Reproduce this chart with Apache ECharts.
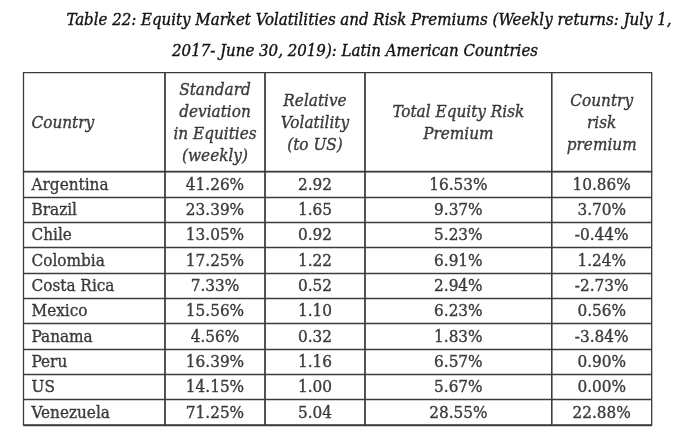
<!DOCTYPE html>
<html><head><meta charset="utf-8">
<script src="https://cdn.jsdelivr.net/npm/echarts@6/dist/echarts.min.js"></script>
<style>html,body{margin:0;padding:0;background:#fff}#c{width:680px;height:442px}</style>
</head><body><div id="c"></div>
<script>
const titleLines = ['Table 22: Equity Market Volatilities and Risk Premiums (Weekly returns: July 1,', '2017- June 30, 2019): Latin American Countries'];
const headers = ['Country', 'Standard\ndeviation\nin Equities\n(weekly)', 'Relative\nVolatility\n(to US)', 'Total Equity Risk\nPremium', 'Country\nrisk\npremium'];
const countries = ['Argentina','Brazil','Chile','Colombia','Costa Rica','Mexico','Panama','Peru','US','Venezuela'];
const stdDev = [41.26,23.39,13.05,17.25,7.33,15.56,4.56,16.39,14.15,71.25];
const relVol = [2.92,1.65,0.92,1.22,0.52,1.10,0.32,1.16,1.00,5.04];
const totalERP = [16.53,9.37,5.23,6.91,2.94,6.23,1.83,6.57,5.67,28.55];
const countryRP = [10.86,3.70,-0.44,1.24,-2.73,0.56,-3.84,0.90,0.00,22.88];

const pct = v => v.toFixed(2) + '%';
const num = v => v.toFixed(2);
const columns = [
  {vals: countries, fmt: v => v},
  {vals: stdDev, fmt: pct},
  {vals: relVol, fmt: num},
  {vals: totalERP, fmt: pct},
  {vals: countryRP, fmt: pct}
];

const edges = [23.5, 165, 265, 365, 551.7, 651.7];
const headTop = 72.7, headH = 99, bodyTop = 171.7, bodyH = 253.3;
const lineC = '#3c3c3c', lineW = 1.3;
const FONT = '"DejaVu Serif Condensed", "DejaVu Serif", serif';
const INK = '#111';

const grid = [], xAxis = [], yAxis = [], series = [];
columns.forEach((col, i) => {
  const left = edges[i], width = edges[i + 1] - edges[i];
  grid.push({left, width, top: headTop, height: headH, show: true, borderColor: lineC, borderWidth: lineW, backgroundColor: 'transparent'});
  grid.push({left, width, top: bodyTop, height: bodyH, show: true, borderColor: lineC, borderWidth: lineW, backgroundColor: 'transparent'});
  const hg = 2 * i, bg = 2 * i + 1;
  xAxis.push({gridIndex: hg, type: 'value', min: 0, max: 1, show: false});
  xAxis.push({gridIndex: bg, type: 'value', min: 0, max: 1, show: false});
  yAxis.push({gridIndex: hg, type: 'category', data: [headers[i]], show: false});
  yAxis.push({gridIndex: bg, type: 'category', data: countries, inverse: true,
    axisLine: {show: false}, axisTick: {show: false}, axisLabel: {show: false},
    splitLine: {show: true, interval: 0, lineStyle: {color: lineC, width: lineW}}});
  series.push({
    type: 'scatter', xAxisIndex: hg, yAxisIndex: hg, symbolSize: 0, silent: true,
    data: [[i === 0 ? 0 : 0.5, headers[i]]],
    label: {show: true, position: i === 0 ? 'right' : 'inside', distance: 8, offset: [0, 1.5],
      formatter: p => headers[i], fontFamily: FONT, fontStyle: 'italic', fontSize: 17,
      lineHeight: 22, color: INK, textBorderColor: INK, textBorderWidth: 0.35,
      align: i === 0 ? 'left' : 'center'}
  });
  series.push({
    type: 'scatter', xAxisIndex: bg, yAxisIndex: bg, symbolSize: 0, silent: true,
    data: countries.map(c => [i === 0 ? 0 : 0.5, c]),
    label: {show: true, position: i === 0 ? 'right' : 'inside', distance: 8, offset: [0, 1],
      formatter: p => col.fmt(col.vals[p.dataIndex]), fontFamily: FONT, fontSize: 17,
      color: INK, textBorderColor: INK, textBorderWidth: 0.35,
      align: i === 0 ? 'left' : 'center'}
  });
});

const titleStyle = {fontFamily: FONT, fontStyle: 'italic', fontWeight: 'normal', fontSize: 16.7,
  color: INK, textBorderColor: INK, textBorderWidth: 0.35};
const chart = echarts.init(document.getElementById('c'));
chart.setOption({
  backgroundColor: '#fff',
  animation: false,
  title: [
    {text: titleLines[0], left: 369, top: 12, textAlign: 'center', padding: 0, textStyle: titleStyle},
    {text: titleLines[1], left: 355, top: 43, textAlign: 'center', padding: 0, textStyle: titleStyle}
  ],
  grid, xAxis, yAxis, series
});
</script></body></html>
